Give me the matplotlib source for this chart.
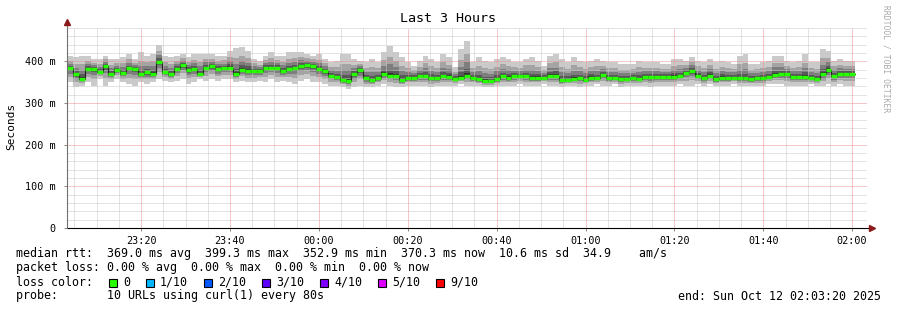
import numpy as np
import matplotlib.pyplot as plt
from matplotlib.patches import Rectangle

# smokeping graph, one value per 80 s probe round (ms)
median = [383, 369, 358, 382, 382, 375, 390, 369, 380, 372, 383, 382, 369, 374, 370, 399, 374, 370, 382, 392, 380, 382, 369,
          385, 388, 381, 383, 385, 370, 380, 378, 377, 376, 385, 385, 385, 376, 382, 383, 390, 391, 390, 382, 377, 366, 362,
          356, 354, 369, 380, 359, 356, 361, 370, 366, 366, 356, 361, 361, 364, 364, 360, 360, 364, 363, 358, 361, 366, 361,
          357, 353, 353, 357, 364, 361, 365, 364, 364, 361, 361, 361, 365, 365, 356, 356, 358, 360, 355, 361, 359, 368, 361,
          359, 358, 358, 360, 358, 362, 363, 363, 363, 363, 363, 365, 373, 378, 366, 359, 366, 357, 361, 361, 361, 359, 359,
          357, 359, 360, 363, 368, 369, 369, 363, 363, 363, 360, 358, 369, 380, 365, 370, 370, 370]
ping_max = [412, 410, 414, 414, 406, 406, 414, 406, 406, 410, 418, 406, 422, 414, 418, 440, 414, 410, 414, 418, 410, 418, 418,
            418, 418, 414, 414, 426, 432, 434, 426, 406, 402, 414, 422, 414, 414, 422, 422, 422, 418, 414, 418, 406, 398, 402,
            418, 418, 406, 402, 398, 406, 398, 422, 438, 422, 410, 398, 390, 402, 414, 406, 398, 418, 410, 386, 430, 450, 398,
            410, 402, 398, 406, 410, 406, 398, 398, 406, 410, 402, 390, 414, 418, 406, 398, 410, 402, 398, 402, 406, 402, 398,
            398, 394, 394, 394, 402, 398, 398, 398, 394, 394, 406, 406, 402, 410, 402, 398, 406, 398, 402, 398, 394, 414, 418,
            394, 394, 398, 402, 414, 414, 402, 398, 402, 418, 398, 398, 430, 426, 402, 406, 402, 402]
ping_min = [350, 338, 342, 350, 342, 358, 342, 350, 358, 350, 346, 342, 350, 346, 350, 358, 354, 350, 354, 358, 346, 350, 358,
            354, 358, 354, 358, 358, 350, 354, 350, 350, 354, 350, 358, 350, 354, 350, 346, 354, 358, 350, 350, 346, 342, 342,
            338, 334, 338, 342, 338, 338, 342, 346, 342, 338, 338, 342, 342, 342, 342, 338, 342, 342, 342, 342, 346, 342, 342,
            342, 338, 338, 342, 342, 342, 342, 346, 342, 342, 342, 346, 342, 342, 338, 342, 342, 338, 342, 342, 346, 342, 342,
            346, 338, 342, 342, 342, 342, 338, 342, 342, 342, 342, 346, 342, 342, 346, 342, 346, 342, 342, 342, 346, 342, 342,
            342, 342, 342, 346, 346, 346, 342, 342, 342, 342, 346, 342, 342, 346, 342, 346, 342, 342]

step_s = 80
span_s = 3 * 3600   # 23:03:20 .. 02:03:20

xtick_pos = [1000 + 1200 * k for k in range(9)]
xtick_lab = ['23:20', '23:40', '00:00', '00:20', '00:40', '01:00', '01:20', '01:40', '02:00']
ytick_pos = [0, 100, 200, 300, 400]
ytick_lab = ['0', '100 m', '200 m', '300 m', '400 m']

legend_rtt = 'median rtt:  369.0 ms avg  399.3 ms max  352.9 ms min  370.3 ms now  10.6 ms sd  34.9    am/s'
legend_loss = 'packet loss: 0.00 % avg  0.00 % max  0.00 % min  0.00 % now'
legend_probe = 'probe:       10 URLs using curl(1) every 80s'
legend_end = 'end: Sun Oct 12 02:03:20 2025'
loss_labels = ['0', '1/10', '2/10', '3/10', '4/10', '5/10', '9/10']
loss_colors = ['#26ff00', '#00b8ff', '#0059ff', '#5e00ff', '#7e00ff', '#dd00ff', '#ff0000']

# smoke shading: outer -> inner
smoke_colors = ['#cacaca', '#a4a4a4', '#7e7e7e', '#585858', '#323232']
smoke_frac = [1.0, 0.62, 0.38, 0.2, 0.07]

W, H = 897, 310
MONO = 'DejaVu Sans Mono'
fig = plt.figure(figsize=(W / 100, H / 100), dpi=100)
ax = fig.add_axes([67 / W, 1 - 228 / H, 800 / W, 200 / H])
ax.set_xlim(0, span_s)
ax.set_ylim(0, 480)

med = np.array(median, dtype=float)
hi = np.array(ping_max, dtype=float)
lo = np.array(ping_min, dtype=float)
n = len(med)
t = np.arange(n + 1) * step_s

for col, f in zip(smoke_colors, smoke_frac):
    top = med + f * (hi - med)
    bot = med - f * (med - lo)
    ax.fill_between(t, np.append(bot, bot[-1]), np.append(top, top[-1]),
                    step='post', color=col, lw=0, zorder=1)

# grid (drawn over the smoke like rrdtool does), dotted
dot = dict(lw=0.72, ls=(0, (1, 1)), zorder=2)
for x in range(100, span_s, 300):
    if x not in xtick_pos:
        ax.axvline(x, color='#c8c8c8', **dot)
for y in range(20, 481, 20):
    if y not in ytick_pos:
        ax.axhline(y, color='#c8c8c8', **dot)
for x in xtick_pos:
    ax.axvline(x, color='#f09090', **dot)
for y in ytick_pos[1:]:
    ax.axhline(y, color='#f09090', **dot)

# median: thin dark step line plus coloured bar per step
ax.step(t, np.append(med, med[-1]), where='post', color='#202020', lw=0.8, zorder=3)
ax.hlines(med, t[:-1], t[1:], color=loss_colors[0], lw=2.4, zorder=4)

for s in ax.spines.values():
    s.set_visible(False)
ax.set_xticks(xtick_pos)
ax.set_xticklabels(xtick_lab, family=MONO, fontsize=7.3)
ax.set_yticks(ytick_pos)
ax.set_yticklabels(ytick_lab, family=MONO, fontsize=7.3)
ax.tick_params(axis='both', length=2, width=0.7, color='#888888', pad=4)
ax.tick_params(axis='y', pad=6)

# axis lines with arrow heads
ax.plot([0, 1.006], [0, 0], color='black', lw=0.8, transform=ax.transAxes, clip_on=False, zorder=5)
ax.plot([0, 0], [0, 1.03], color='#707070', lw=0.8, transform=ax.transAxes, clip_on=False, zorder=5)
ax.plot([1.006], [0], marker='>', ms=4, color='#8b1a1a', transform=ax.transAxes, clip_on=False, zorder=6)
ax.plot([0], [1.03], marker='^', ms=4, color='#8b1a1a', transform=ax.transAxes, clip_on=False, zorder=6)

fig.text(448 / W, 1 - 19 / H, 'Last 3 Hours', family=MONO, fontsize=9.6, ha='center', va='center')
fig.text(11 / W, 1 - 126 / H, 'Seconds', family=MONO, fontsize=8, rotation=90, ha='center', va='center')
fig.text(886 / W, 1 - 59 / H, 'RRDTOOL / TOBI OETIKER', family=MONO, fontsize=5.8, rotation=270,
         color='#aaaaaa', ha='center', va='center')

# legend block
fig.text(16 / W, 1 - 254 / H, legend_rtt, family=MONO, fontsize=8.4, va='center')
fig.text(16 / W, 1 - 268 / H, legend_loss, family=MONO, fontsize=8.4, va='center')
fig.text(16 / W, 1 - 282 / H, 'loss color:', family=MONO, fontsize=8.4, va='center')
xs = 109
for lab, col in zip(loss_labels, loss_colors):
    fig.patches.append(Rectangle((xs / W, 1 - 286.5 / H), 8 / W, 8 / H, transform=fig.transFigure,
                                 facecolor=col, edgecolor='black', lw=0.8))
    fig.text((xs + 14) / W, 1 - 282 / H, lab, family=MONO, fontsize=8.4, va='center')
    xs = xs + 14 + 7 * len(lab) + 16
fig.text(16 / W, 1 - 296 / H, legend_probe, family=MONO, fontsize=8.4, va='center')
fig.text(881 / W, 1 - 296 / H, legend_end, family=MONO, fontsize=8.4, va='center', ha='right')

fig.savefig('out.png', dpi=100)
